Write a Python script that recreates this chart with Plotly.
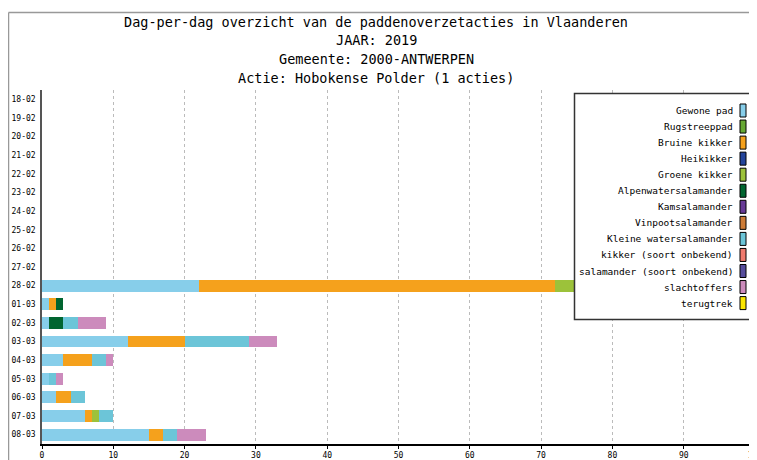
import plotly.graph_objects as go

# ---- data ----
dates = ["18-02", "19-02", "20-02", "21-02", "22-02", "23-02", "24-02", "25-02",
         "26-02", "27-02", "28-02", "01-03", "02-03", "03-03", "04-03", "05-03",
         "06-03", "07-03", "08-03"]

species = ["Gewone pad", "Rugstreeppad", "Bruine kikker", "Heikikker", "Groene kikker",
           "Alpenwatersalamander", "Kamsalamander", "Vinpootsalamander",
           "Kleine watersalamander", "kikker (soort onbekend)",
           "salamander (soort onbekend)", "slachtoffers", "terugtrek"]

gewone_pad =        [0, 0, 0, 0, 0, 0, 0, 0, 0, 0, 22, 1, 1, 12, 3, 1, 2, 6, 15]
rugstreeppad =      [0, 0, 0, 0, 0, 0, 0, 0, 0, 0, 0, 0, 0, 0, 0, 0, 0, 0, 0]
bruine_kikker =     [0, 0, 0, 0, 0, 0, 0, 0, 0, 0, 50, 1, 0, 8, 4, 0, 2, 1, 2]
heikikker =         [0, 0, 0, 0, 0, 0, 0, 0, 0, 0, 0, 0, 0, 0, 0, 0, 0, 0, 0]
groene_kikker =     [0, 0, 0, 0, 0, 0, 0, 0, 0, 0, 5, 0, 0, 0, 0, 0, 0, 1, 0]
alpenwatersal =     [0, 0, 0, 0, 0, 0, 0, 0, 0, 0, 0, 1, 2, 0, 0, 0, 0, 0, 0]
kamsalamander =     [0, 0, 0, 0, 0, 0, 0, 0, 0, 0, 0, 0, 0, 0, 0, 0, 0, 0, 0]
vinpootsalamander = [0, 0, 0, 0, 0, 0, 0, 0, 0, 0, 0, 0, 0, 0, 0, 0, 0, 0, 0]
kleine_watersal =   [0, 0, 0, 0, 0, 0, 0, 0, 0, 0, 0, 0, 2, 9, 2, 1, 2, 2, 2]
kikker_onbekend =   [0, 0, 0, 0, 0, 0, 0, 0, 0, 0, 0, 0, 0, 0, 0, 0, 0, 0, 0]
salamander_onbek =  [0, 0, 0, 0, 0, 0, 0, 0, 0, 0, 0, 0, 0, 0, 0, 0, 0, 0, 0]
slachtoffers =      [0, 0, 0, 0, 0, 0, 0, 0, 0, 0, 0, 0, 4, 4, 1, 1, 0, 0, 4]
terugtrek =         [0, 0, 0, 0, 0, 0, 0, 0, 0, 0, 0, 0, 0, 0, 0, 0, 0, 0, 0]

series_values = [gewone_pad, rugstreeppad, bruine_kikker, heikikker, groene_kikker,
                 alpenwatersal, kamsalamander, vinpootsalamander, kleine_watersal,
                 kikker_onbekend, salamander_onbek, slachtoffers, terugtrek]

colors = ["#87ceea", "#66a833", "#f5a11c", "#23449a", "#9cc23a", "#016530",
          "#673a96", "#cd7c38", "#6cc5d8", "#ef7a6e", "#574d9c", "#cc8bbc", "#fbe600"]

x_ticks = [0, 10, 20, 30, 40, 50, 60, 70, 80, 90, 100]

title_lines = ["Dag-per-dag overzicht van de paddenoverzetacties in Vlaanderen",
               "JAAR: 2019",
               "Gemeente: 2000-ANTWERPEN",
               "Actie: Hobokense Polder (1 acties)"]

# ---- layout geometry ----
# page coordinates; the figure is placed 8px in from the page corner
OFF = 8
W, H = 757, 460
PL, PR, PT, PB = 42, 755, 90, 444          # plot area in page pixels
ML, MT = PL - OFF, PT - OFF
MR = W - (PR - OFF)
MB = H - (PB - OFF)
PW, PH = PR - PL, PB - PT
FONT = "DejaVu Sans Mono"

def px(xp):
    return (xp - PL) / PW

def py(yp):
    return (PB - yp) / PH

fig = go.Figure()
for name, vals, col in zip(species, series_values, colors):
    fig.add_trace(go.Bar(y=dates, x=vals, name=name, orientation="h",
                         marker=dict(color=col, line=dict(width=0)),
                         showlegend=False))

shapes = []
annotations = []

# outer frame (top and left gray lines)
shapes.append(dict(type="line", xref="paper", yref="paper",
                   x0=px(8.5), x1=px(W + 20), y0=py(12.5), y1=py(12.5),
                   line=dict(color="#999999", width=1.5)))
shapes.append(dict(type="line", xref="paper", yref="paper",
                   x0=px(8.5), x1=px(8.5), y0=py(12.5), y1=py(H + 20),
                   line=dict(color="#999999", width=1.5)))
# right plot border
shapes.append(dict(type="line", xref="paper", yref="paper",
                   x0=1, x1=1, y0=0, y1=1,
                   line=dict(color="#aaaaaa", width=1)))

# title lines
for i, t in enumerate(title_lines):
    annotations.append(dict(text=t, xref="paper", yref="paper",
                            x=px(376), y=py(22 + 18.5 * i),
                            xanchor="center", yanchor="middle", showarrow=False,
                            font=dict(family=FONT, size=13.5, color="#000000")))

# custom legend
lx0, lx1, ly0, ly1 = 574.5, 752.5, 93.5, 319.5
shapes.append(dict(type="rect", xref="paper", yref="paper", layer="above",
                   x0=px(lx0), x1=px(lx1), y0=py(ly1), y1=py(ly0),
                   fillcolor="#ffffff", line=dict(color="#333333", width=1.5)))
for i, (name, col) in enumerate(zip(species, colors)):
    yc = 110.5 + 16.05 * i
    annotations.append(dict(text=name, xref="paper", yref="paper",
                            x=px(735), y=py(yc), xanchor="right", yanchor="middle",
                            showarrow=False,
                            font=dict(family=FONT, size=9.5, color="#000000")))
    shapes.append(dict(type="rect", xref="paper", yref="paper", layer="above",
                       x0=px(740), x1=px(746), y0=py(yc + 6.5), y1=py(yc - 6.5),
                       fillcolor=col, line=dict(color="#000000", width=1)))

fig.update_layout(
    width=W, height=H,
    margin=dict(l=ML, r=MR, t=MT, b=MB, pad=0),
    barmode="stack", bargap=0.36,
    paper_bgcolor="#ffffff", plot_bgcolor="#ffffff",
    font=dict(family=FONT, size=8, color="#000000"),
    shapes=shapes, annotations=annotations,
    showlegend=False,
)
fig.update_xaxes(range=[0, 100], tickvals=x_ticks, ticktext=[str(v) for v in x_ticks],
                 showgrid=True, gridcolor="#bbbbbb", griddash="dot", gridwidth=1,
                 showline=True, linecolor="#000000", linewidth=1.5,
                 ticks="outside", ticklen=3, tickcolor="#000000",
                 tickfont=dict(family=FONT, size=8, color="#000000"),
                 zeroline=False, fixedrange=True, automargin=False)
fig.update_yaxes(type="category", categoryorder="array", categoryarray=dates,
                 autorange="reversed",
                 showgrid=False, showline=True, linecolor="#555555", linewidth=1.5,
                 ticks="outside", ticklen=3, tickcolor="rgba(0,0,0,0)",
                 tickfont=dict(family=FONT, size=8, color="#000000"),
                 zeroline=False, fixedrange=True, automargin=False)

fig.write_html("out.html")
